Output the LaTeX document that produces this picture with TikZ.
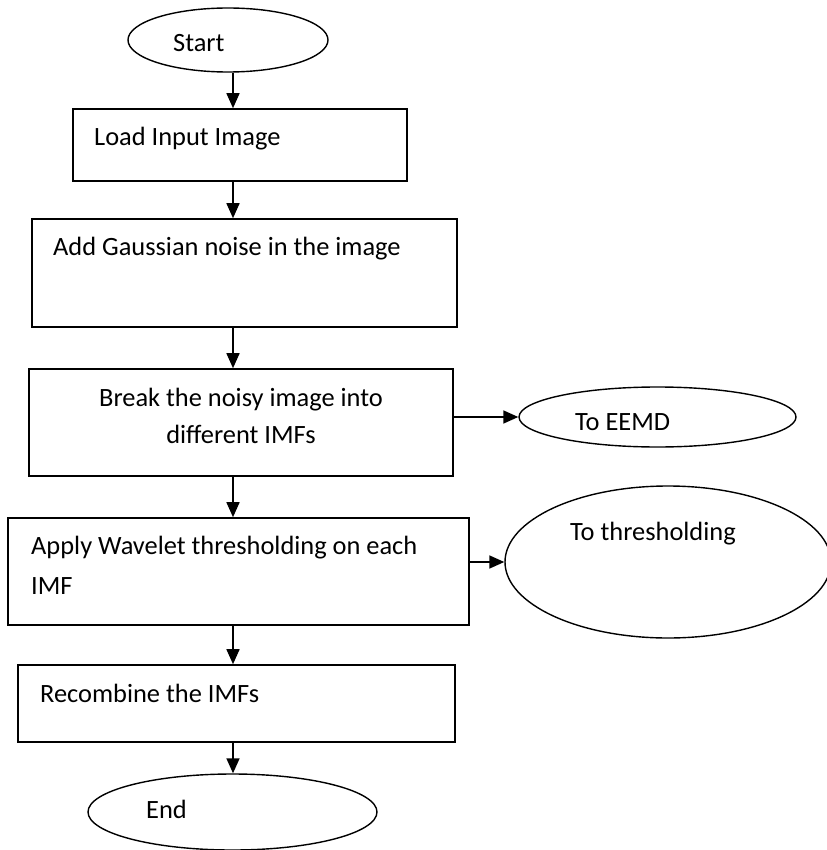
\documentclass[tikz,border=0pt]{standalone}
\usepackage{fontspec}
\setmainfont{Carlito}
\usetikzlibrary{arrows.meta,shapes.geometric}
\begin{document}
\begin{tikzpicture}[x=1pt,y=-1pt,
  box/.style={draw, line width=1.6pt, rectangle, inner sep=0pt},
  oval/.style={draw, line width=1.4pt, ellipse, inner sep=0pt},
  lbl/.style={inner sep=0pt, anchor=base west, font=\fontsize{26.4}{32}\selectfont},
  clbl/.style={inner sep=0pt, anchor=base, font=\fontsize{26.4}{32}\selectfont},
  flow/.style={line width=1.6pt, -{Triangle[width=13pt,length=15pt]}}]
\useasboundingbox (0,0) rectangle (826,850);
\coordinate (sp) at (233,0);
% shapes
\node[oval, minimum width=200pt, minimum height=64pt] (start) at (228,40) {};
\node[box, minimum width=334pt, minimum height=72pt] (load) at (240,145) {};
\node[box, minimum width=425pt, minimum height=108pt] (add) at (244.5,273) {};
\node[box, minimum width=424pt, minimum height=107pt] (brk) at (241,422.5) {};
\node[oval, minimum width=277pt, minimum height=60pt] (eemd) at (657.5,417) {};
\node[box, minimum width=461pt, minimum height=107pt] (apply) at (238.5,571.5) {};
\node[oval, minimum width=326pt, minimum height=152pt] (thr) at (668,562) {};
\node[box, minimum width=437pt, minimum height=77pt] (rec) at (236.5,703.5) {};
\node[oval, minimum width=289pt, minimum height=76pt] (end) at (232.5,812) {};
% texts
\node[lbl] (startT) at (173,52) {Start};
\node[lbl] (loadT) at (94,146) {Load Input Image};
\node[lbl] (addT) at (53,255) {Add Gaussian noise in the image};
\node[clbl] (brkA) at (241,406) {Break the noisy image into};
\node[clbl] (brkB) at (241,443) {different IMFs};
\node[lbl] (eemdT) at (575,430) {To EEMD};
\node[lbl] (applyA) at (31,554) {Apply Wavelet thresholding on each};
\node[lbl] (applyB) at (31,594) {IMF};
\node[lbl] (thrT) at (570,540) {To thresholding};
\node[lbl] (recT) at (40,702) {Recombine the IMFs};
\node[lbl] (endT) at (146,818) {End};
% connectors
\draw[flow] (start.south -| sp) -- (load.north -| sp);
\draw[flow] (load.south -| sp) -- (add.north -| sp);
\draw[flow] (add.south -| sp) -- (brk.north -| sp);
\draw[flow] (brk.east |- eemd.west) -- (eemd.west);
\draw[flow] (brk.south -| sp) -- (apply.north -| sp);
\draw[flow] (apply.east |- thr.west) -- (thr.west);
\draw[flow] (apply.south -| sp) -- (rec.north -| sp);
\draw[flow] (rec.south -| sp) -- (end.north -| sp);
\end{tikzpicture}
\end{document}
